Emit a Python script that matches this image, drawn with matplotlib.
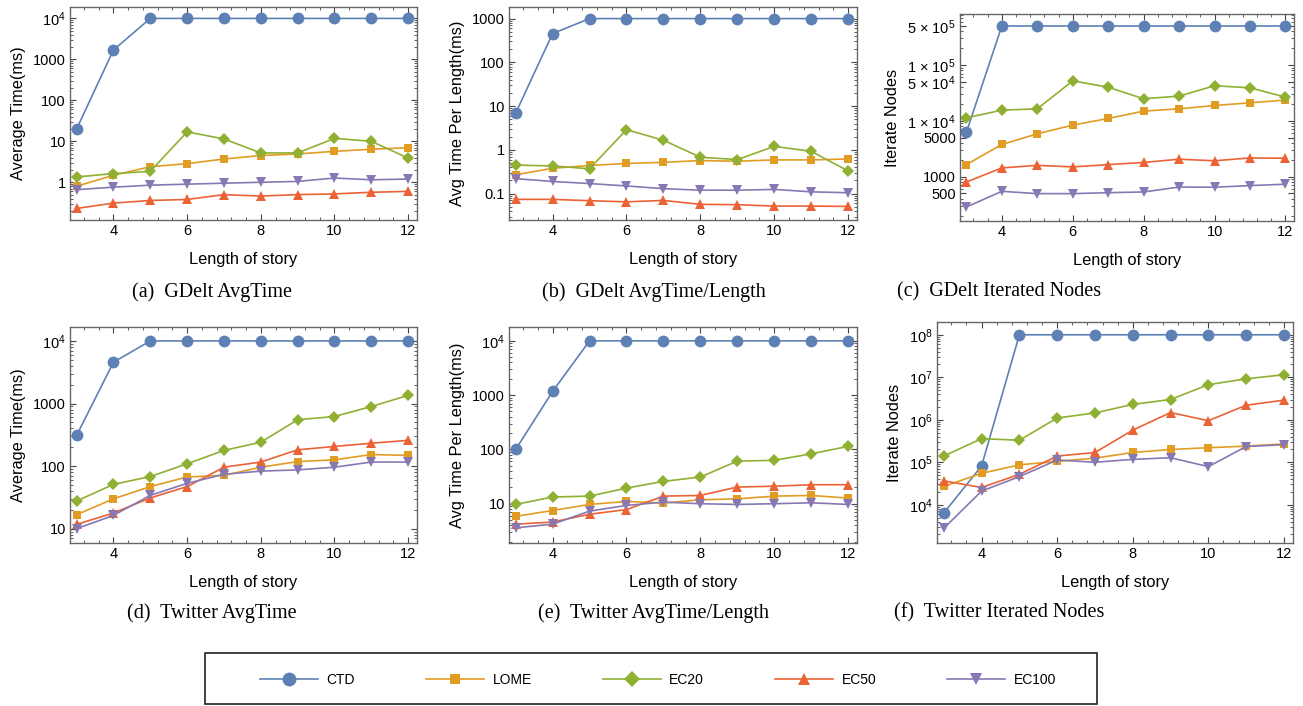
import numpy as np
import matplotlib
matplotlib.use("Agg")
import matplotlib.pyplot as plt
from matplotlib.ticker import FixedLocator, FixedFormatter, LogLocator, NullFormatter, MultipleLocator
from matplotlib.lines import Line2D
from matplotlib.patches import Rectangle

plt.rcParams['font.family'] = ['Liberation Sans', 'DejaVu Sans']
plt.rcParams['mathtext.default'] = 'regular'

# ---- data ----
lengths = [3, 4, 5, 6, 7, 8, 9, 10, 11, 12]
methods = ["CTD", "LOME", "EC20", "EC50", "EC100"]

# (a) GDelt AvgTime
gd_time_ctd = [20, 1700, 1e4, 1e4, 1e4, 1e4, 1e4, 1e4, 1e4, 1e4]
gd_time_lome = [0.8, 1.48, 2.4, 2.85, 3.7, 4.5, 4.9, 5.7, 6.4, 7.0]
gd_time_ec20 = [1.35, 1.63, 1.85, 17, 11.4, 5.2, 5.2, 11.8, 10, 3.9]
gd_time_ec50 = [0.23, 0.31, 0.36, 0.38, 0.50, 0.46, 0.50, 0.52, 0.57, 0.60]
gd_time_ec100 = [0.66, 0.76, 0.85, 0.9, 0.95, 1.0, 1.05, 1.27, 1.15, 1.2]

# (b) GDelt AvgTime/Length
gd_len_ctd = [6.9, 455, 1000, 1000, 1000, 1000, 1000, 1000, 1000, 1000]
gd_len_lome = [0.27, 0.38, 0.44, 0.49, 0.52, 0.57, 0.55, 0.59, 0.59, 0.62]
gd_len_ec20 = [0.45, 0.43, 0.37, 2.9, 1.66, 0.68, 0.60, 1.2, 0.93, 0.33]
gd_len_ec50 = [0.074, 0.074, 0.069, 0.065, 0.07, 0.057, 0.056, 0.052, 0.052, 0.051]
gd_len_ec100 = [0.22, 0.19, 0.17, 0.15, 0.13, 0.12, 0.12, 0.125, 0.11, 0.105]

# (c) GDelt Iterated Nodes
gd_nodes_ctd = [6200, 5e5, 5e5, 5e5, 5e5, 5e5, 5e5, 5e5, 5e5, 5e5]
gd_nodes_lome = [1640, 3760, 5840, 8360, 11000, 14900, 16400, 18800, 21000, 23500]
gd_nodes_ec20 = [11300, 15500, 16400, 52000, 40000, 24800, 27700, 42500, 39000, 26600]
gd_nodes_ec50 = [800, 1430, 1590, 1490, 1640, 1790, 2050, 1920, 2160, 2130]
gd_nodes_ec100 = [285, 545, 495, 495, 515, 530, 650, 645, 690, 730]

# (d) Twitter AvgTime
tw_time_ctd = [309, 4570, 1e4, 1e4, 1e4, 1e4, 1e4, 1e4, 1e4, 1e4]
tw_time_lome = [16.7, 30, 47, 67, 71, 96, 118, 126, 153, 148]
tw_time_ec20 = [27.7, 51, 68, 109, 178, 241, 550, 620, 895, 1350]
tw_time_ec50 = [11.7, 17.8, 31, 47, 96, 116, 182, 206, 232, 258]
tw_time_ec100 = [10.0, 16.3, 34, 53, 74, 83, 87, 96, 116, 116]

# (e) Twitter AvgTime/Length
tw_len_ctd = [100, 1170, 1e4, 1e4, 1e4, 1e4, 1e4, 1e4, 1e4, 1e4]
tw_len_lome = [5.85, 7.5, 9.7, 11, 10.3, 11.8, 12.3, 13.8, 14.2, 12.7]
tw_len_ec20 = [9.7, 13.3, 13.8, 19.4, 25.8, 31, 61, 63, 83, 114]
tw_len_ec50 = [4.2, 4.6, 6.4, 7.8, 13.8, 14.2, 20.3, 21, 22.4, 22.4]
tw_len_ec100 = [3.6, 4.2, 7.3, 9.3, 10.7, 10, 9.7, 10, 10.4, 9.7]

# (f) Twitter Iterated Nodes
tw_nodes_ctd = [6380, 8.2e4, 1e8, 1e8, 1e8, 1e8, 1e8, 1e8, 1e8, 1e8]
tw_nodes_lome = [2.7e4, 5.5e4, 8.7e4, 1.05e5, 1.25e5, 1.7e5, 2.0e5, 2.2e5, 2.4e5, 2.7e5]
tw_nodes_ec20 = [1.4e5, 3.6e5, 3.3e5, 1.1e6, 1.45e6, 2.3e6, 3.0e6, 6.7e6, 9.2e6, 1.15e7]
tw_nodes_ec50 = [3.65e4, 2.55e4, 5.2e4, 1.4e5, 1.7e5, 5.7e5, 1.48e6, 9.5e5, 2.2e6, 2.9e6]
tw_nodes_ec100 = [2.8e3, 2.1e4, 4.6e4, 1.13e5, 1.0e5, 1.17e5, 1.28e5, 7.9e4, 2.35e5, 2.6e5]

colors = ["#5E81B5", "#E19C24", "#8FB032", "#EB6235", "#8778B3"]
markers = ["o", "s", "D", "^", "v"]
msizes = [8.5, 5.5, 6, 7.5, 7.5]

W, H = 1303, 706
fig = plt.figure(figsize=(W / 100, H / 100), dpi=100)


def px_axes(l, r, t, b):
    return fig.add_axes([l / W, 1 - b / H, (r - l) / W, (b - t) / H])


def draw_panel(ax, series, ylim, yticks, ylabels, ylabel, xlim=(2.82, 12.24)):
    for s, c, m, ms in zip(series, colors, markers, msizes):
        ax.plot(lengths, s, color=c, marker=m, markersize=ms, lw=1.2,
                markeredgewidth=0, clip_on=False)
    ax.set_yscale('log')
    ax.set_xlim(*xlim)
    ax.set_ylim(*ylim)
    ax.yaxis.set_major_locator(FixedLocator(yticks))
    ax.yaxis.set_major_formatter(FixedFormatter(ylabels))
    ax.yaxis.set_minor_locator(LogLocator(base=10, subs=np.arange(2, 10), numticks=20))
    ax.yaxis.set_minor_formatter(NullFormatter())
    ax.xaxis.set_major_locator(FixedLocator([4, 6, 8, 10, 12]))
    ax.xaxis.set_minor_locator(MultipleLocator(0.4))
    ax.tick_params(which='both', direction='in', top=True, right=True,
                   labelsize=10.5, pad=3, color='#444444')
    ax.tick_params(which='major', length=4.5, width=0.8)
    ax.tick_params(which='minor', length=2.2, width=0.6)
    for sp in ax.spines.values():
        sp.set_color('#666666')
        sp.set_linewidth(1.0)
    ax.set_xlabel("Length of story", fontsize=11.8, labelpad=10)
    ax.set_ylabel(ylabel, fontsize=11.8, labelpad=5)


ax_a = px_axes(70, 417, 7, 220)
draw_panel(ax_a, [gd_time_ctd, gd_time_lome, gd_time_ec20, gd_time_ec50, gd_time_ec100],
           (0.12, 1.9e4), [1, 10, 100, 1000, 1e4], ["1", "10", "100", "1000", "$10^4$"],
           "Average Time(ms)")

ax_b = px_axes(509, 857, 7, 220)
draw_panel(ax_b, [gd_len_ctd, gd_len_lome, gd_len_ec20, gd_len_ec50, gd_len_ec100],
           (0.025, 1840), [0.1, 1, 10, 100, 1000], ["0.1", "1", "10", "100", "1000"],
           "Avg Time Per Length(ms)")

ax_c = px_axes(960, 1294, 14, 221)
draw_panel(ax_c, [gd_nodes_ctd, gd_nodes_lome, gd_nodes_ec20, gd_nodes_ec50, gd_nodes_ec100],
           (160, 8.2e5), [500, 1000, 5000, 1e4, 5e4, 1e5, 5e5],
           ["500", "1000", "5000", "1 × $10^4$", "5 × $10^4$", "1 × $10^5$", "5 × $10^5$"],
           "Iterate Nodes")

ax_d = px_axes(70, 417, 327, 543)
draw_panel(ax_d, [tw_time_ctd, tw_time_lome, tw_time_ec20, tw_time_ec50, tw_time_ec100],
           (5.9, 1.67e4), [10, 100, 1000, 1e4], ["10", "100", "1000", "$10^4$"],
           "Average Time(ms)")

ax_e = px_axes(509, 857, 327, 543)
draw_panel(ax_e, [tw_len_ctd, tw_len_lome, tw_len_ec20, tw_len_ec50, tw_len_ec100],
           (1.89, 1.8e4), [10, 100, 1000, 1e4], ["10", "100", "1000", "$10^4$"],
           "Avg Time Per Length(ms)")

ax_f = px_axes(937, 1293, 322, 543)
draw_panel(ax_f, [tw_nodes_ctd, tw_nodes_lome, tw_nodes_ec20, tw_nodes_ec50, tw_nodes_ec100],
           (1260, 2e8), [1e4, 1e5, 1e6, 1e7, 1e8],
           ["$10^4$", "$10^5$", "$10^6$", "$10^7$", "$10^8$"],
           "Iterate Nodes")

# captions
captions = [("(a)  GDelt AvgTime", 212, 292), ("(b)  GDelt AvgTime/Length", 654, 292),
            ("(c)  GDelt Iterated Nodes", 999, 292), ("(d)  Twitter AvgTime", 212, 613),
            ("(e)  Twitter AvgTime/Length", 654, 613), ("(f)  Twitter Iterated Nodes", 999, 613)]
for txt, x, y in captions:
    fig.text(x / W, 1 - y / H, txt, ha='center', va='center', fontsize=14.5,
             family=['Liberation Serif', 'DejaVu Serif'])

# legend: frame drawn as a box, entries centred in it
fig.patches.append(Rectangle((205 / W, 2 / H), 892 / W, 51 / H, transform=fig.transFigure,
                             fill=False, edgecolor='#222222', lw=1.2))
handles = [Line2D([], [], color=c, marker=m, lw=1.2, markeredgewidth=0)
           for c, m in zip(colors, markers)]
msizes_leg = [10, 7, 8.5, 9, 9]
for h, ms in zip(handles, msizes_leg):
    h.set_markersize(ms)
leg = fig.legend(handles, methods, loc='center', ncol=5,
                 bbox_to_anchor=(658 / W, 1 - 680 / H),
                 fontsize=10, handlelength=4.2, frameon=False,
                 handletextpad=0.6, columnspacing=5.1)

fig.savefig("out.png", dpi=100)
